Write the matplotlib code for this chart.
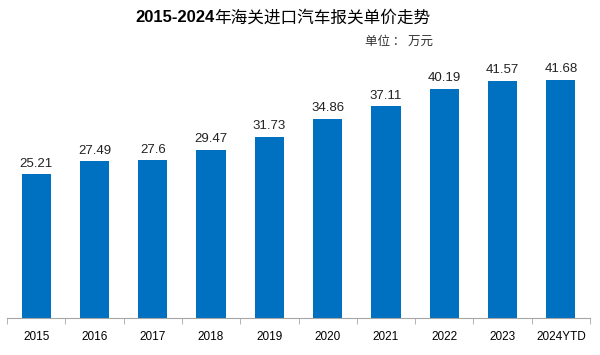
import matplotlib.pyplot as plt
import numpy as np

plt.rcParams["font.family"] = ["Liberation Sans", "Noto Sans CJK SC", "DejaVu Sans"]

years = ["2015", "2016", "2017", "2018", "2019", "2020", "2021", "2022", "2023", "2024YTD"]
prices = [25.21, 27.49, 27.6, 29.47, 31.73, 34.86, 37.11, 40.19, 41.57, 41.68]
value_labels = ["25.21", "27.49", "27.6", "29.47", "31.73", "34.86", "37.11", "40.19", "41.57", "41.68"]

fig = plt.figure(figsize=(6, 3.55), dpi=100)
ax = fig.add_axes([0.0117, 0.104, 0.9716, 0.724])

x = np.arange(len(years))
ax.bar(x, prices, width=0.5, color="#0070C0")
for xi, v, lab in zip(x, prices, value_labels):
    ax.text(xi, v + 0.8, lab, ha="center", va="bottom", fontsize=9.5, color="#222222")

ax.set_xlim(-0.5, len(years) - 0.5)
ax.set_ylim(0, 45)
for s in ["top", "right", "left"]:
    ax.spines[s].set_visible(False)
ax.spines["bottom"].set_color("#a6a6a6")
ax.set_yticks([])
ax.set_xticks(x)
ax.set_xticklabels(years, fontsize=8.5)
ax.tick_params(axis="x", length=0, pad=9)
ax.set_xticks(np.arange(-0.5, len(years)), minor=True)
ax.tick_params(axis="x", which="minor", length=4, color="#a6a6a6")

# 标题：数字部分加粗，中文部分常规
fig.canvas.draw()
renderer = fig.canvas.get_renderer()
t1 = fig.text(0, 0, "2015-2024", fontsize=12, fontweight="bold", family=["Liberation Sans"])
t2 = fig.text(0, 0, "年海关进口汽车报关单价走势", fontsize=12, family=["Noto Sans CJK SC"])
w1 = t1.get_window_extent(renderer).width / fig.bbox.width
w2 = t2.get_window_extent(renderer).width / fig.bbox.width
x0 = 0.4717 - (w1 + w2) / 2
ty = 1 - 18 / 355
t1.set_position((x0, ty))
t1.set_va("center")
t2.set_position((x0 + w1, ty))
t2.set_va("center")

fig.text(0.608, 1 - 41 / 355, "单位 ： 万元", fontsize=9, va="center", family=["Noto Sans CJK SC"], color="#333333")

fig.savefig("out.png", dpi=100)
